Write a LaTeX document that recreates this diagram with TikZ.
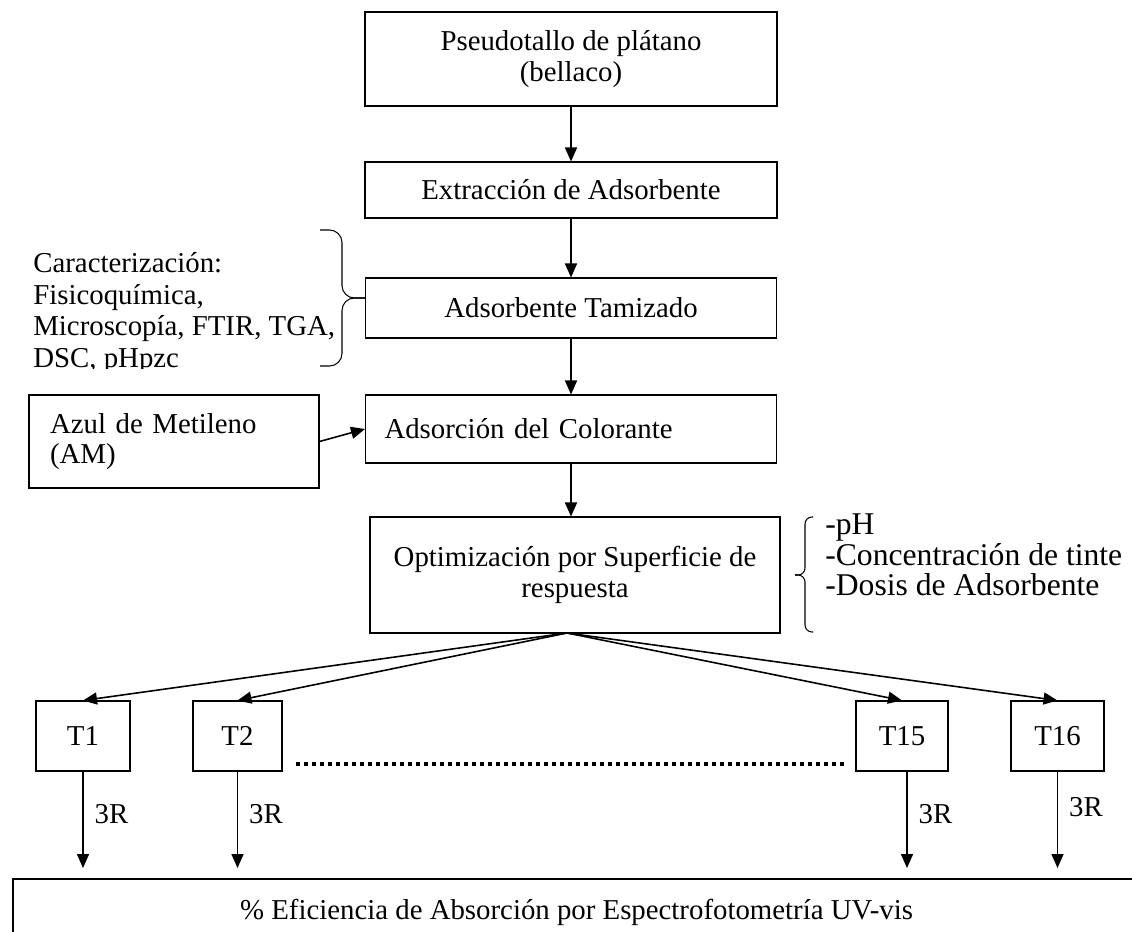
\documentclass[tikz,border=0pt]{standalone}
\usepackage{fontspec}
\setmainfont{Liberation Serif}
\usetikzlibrary{arrows.meta}

\begin{document}
\begin{tikzpicture}[
   every node/.style={font=\fontsize{16.4pt}{17.5pt}\selectfont},
   box/.style={draw, line width=0.6pt, inner sep=0pt, align=center},
   flecha/.style={-{Triangle[length=0.28cm,width=0.24cm]}, line width=0.9pt},
   llave/.style={line width=0.6pt},
   punteado/.style={line width=2pt, dash pattern=on 0.08cm off 0.08cm}]
   \useasboundingbox (0,0) rectangle (22.64,-18.62);

   \draw (11.42,-1.18) node[box, minimum width=8.24cm, minimum height=1.88cm] (pseudotallo) {Pseudotallo de plátano\\(bellaco)};
   \draw (11.42,-3.80) node[box, minimum width=8.24cm, minimum height=1.12cm] (extraccion) {Extracción de Adsorbente};
   \draw (11.42,-6.16) node[box, minimum width=8.22cm, minimum height=1.2cm] (tamizado) {Adsorbente Tamizado};
   \draw (11.42,-8.58) node[box, align=left, text width=7.46cm, inner xsep=0.38cm, minimum height=1.36cm] (adsorcion) {Adsorción del Colorante};
   \draw (3.48,-8.83) node[box, align=left, text width=4.96cm, inner xsep=0.42cm, minimum height=1.86cm] (azul) {Azul de Metileno\\(AM)};
   \draw (11.5,-11.5) node[box, minimum width=8.2cm, minimum height=2.32cm] (optimizacion) {Optimización por Superficie de\\respuesta};

   % caracterizacion (cortado abajo)
   \begin{scope}
      \clip (0,-4.4) rectangle (7.2,-7.36);
      \draw (0.66,-5.04) node[anchor=north west, inner sep=0pt, align=left, font=\fontsize{16.4pt}{18pt}\selectfont] (caracterizacion) {Caracterización:\\Fisicoquímica,\\Microscopía, FTIR, TGA,\\DSC, pHpzc};
   \end{scope}
   \draw[llave, rounded corners=0.25cm] (6.4,-4.6) -- (6.84,-4.6) -- (6.84,-5.96) -- (7.3,-5.96);
   \draw[llave, rounded corners=0.25cm] (7.3,-5.96) -- (6.84,-5.96) -- (6.84,-7.32) -- (6.4,-7.32);

   \draw[llave, rounded corners=0.14cm] (16.26,-10.34) -- (16.1,-10.34) -- (16.1,-11.5) -- (15.9,-11.5);
   \draw[llave, rounded corners=0.14cm] (15.9,-11.5) -- (16.1,-11.5) -- (16.1,-12.64) -- (16.26,-12.64);
   \draw (16.5,-10.26) node[anchor=north west, inner sep=0pt, align=left, font=\fontsize{18pt}{17.6pt}\selectfont] (factores) {-pH\\-Concentración de tinte\\-Dosis de Adsorbente};

   \draw (1.66,-14.72) node[box, minimum width=1.88cm, minimum height=1.4cm] (t1) {T1};
   \draw (4.75,-14.72) node[box, minimum width=1.78cm, minimum height=1.4cm] (t2) {T2};
   \draw (18.04,-14.72) node[box, minimum width=1.84cm, minimum height=1.4cm] (t15) {T15};
   \draw (21.15,-14.72) node[box, minimum width=1.86cm, minimum height=1.4cm] (t16) {T16};

   \draw (11.53,-18.24) node[box, minimum width=22.54cm, minimum height=1.32cm] (eficiencia) {\% Eficiencia de Absorción por Espectrofotometría UV-vis};

   \coordinate (bifurcacion) at (11.34,-12.66);
   \coordinate (puntosA) at (5.92,-15.28);
   \coordinate (puntosB) at (16.9,-15.28);
   \coordinate (fin1) at (1.66,-17.36);
   \coordinate (fin2) at (4.75,-17.36);
   \coordinate (fin15) at (18.14,-17.36);
   \coordinate (fin16) at (21.15,-17.36);

   \path[flecha] (pseudotallo) edge (extraccion);
   \path[flecha] (extraccion) edge (tamizado);
   \path[flecha] (tamizado) edge (adsorcion);
   \draw[flecha] (adsorcion.south) -- (adsorcion.south |- optimizacion.north);
   \draw[flecha] (azul.east) -- (adsorcion.west);

   \draw[flecha] (bifurcacion) -- (t1.north);
   \draw[flecha] (bifurcacion) -- (t2.north);
   \draw[flecha] (bifurcacion) -- (t15.north);
   \draw[flecha] (bifurcacion) -- (t16.north);
   \draw[punteado] (puntosA) -- (puntosB);

   \draw[flecha] (t1) -- node[right=0.1cm, yshift=0.12cm] {3R} (fin1);
   \draw[flecha] (t2) -- node[right=0.1cm, yshift=0.12cm] {3R} (fin2);
   \draw[flecha] (t15.south -| fin15) -- node[right=0.1cm, yshift=0.12cm] {3R} (fin15);
   \draw[flecha] (t16) -- node[right=0.1cm, yshift=0.26cm] {3R} (fin16);
\end{tikzpicture}
\end{document}
